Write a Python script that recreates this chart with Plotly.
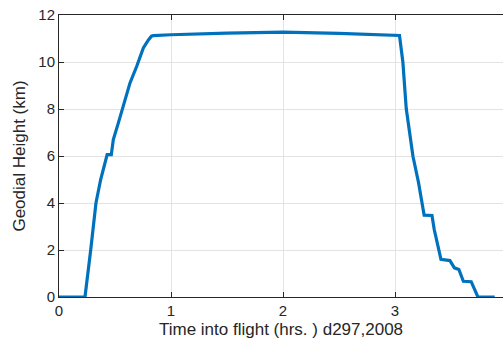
import plotly.graph_objects as go

# Flight profile: time since takeoff (hours) vs. geodial height (km)
time_hrs = [
    0.00, 0.10, 0.232, 0.283, 0.33, 0.372, 0.405, 0.43, 0.467, 0.485, 0.53,
    0.574, 0.634, 0.694, 0.753, 0.80, 0.825, 0.84, 1.00, 1.50, 2.00, 2.50,
    2.90, 3.03, 3.04, 3.07, 3.10, 3.16, 3.21, 3.26, 3.33, 3.35, 3.41, 3.49,
    3.53, 3.57, 3.61, 3.68, 3.74, 3.82, 3.89,
]
height_km = [
    0.00, 0.00, 0.00, 2.00, 4.00, 5.00, 5.57, 6.06, 6.06, 6.70, 7.41,
    8.12, 9.11, 9.82, 10.60, 10.95, 11.10, 11.12, 11.16, 11.23, 11.27, 11.22,
    11.16, 11.14, 11.13, 10.00, 8.02, 5.99, 4.86, 3.48, 3.47, 2.87, 1.60, 1.55,
    1.24, 1.17, 0.67, 0.65, 0.00, 0.00, 0.00,
]

x_ticks = [0, 1, 2, 3, 4]
y_ticks = [0, 2, 4, 6, 8, 10, 12]

axis_color = "#262626"
grid_color = "#e3e3e3"

fig = go.Figure(
    go.Scatter(
        x=time_hrs,
        y=height_km,
        mode="lines",
        line=dict(color="#0072BD", width=3.2),
        showlegend=False,
    )
)

fig.update_layout(
    width=503,
    height=345,
    margin=dict(l=59, r=0, t=15, b=48),
    paper_bgcolor="white",
    plot_bgcolor="white",
    font=dict(family="Liberation Sans, Arial, sans-serif", size=15, color=axis_color),
)

fig.update_xaxes(
    range=[0, 3.964],
    tickvals=x_ticks,
    ticks="inside",
    ticklen=5,
    tickcolor=axis_color,
    showline=True,
    linecolor=axis_color,
    linewidth=1,
    mirror="ticks",
    showgrid=True,
    gridcolor=grid_color,
    gridwidth=1,
    zeroline=False,
    tickfont=dict(size=15),
    title=dict(text="Time into flight (hrs. ) d297,2008", font=dict(size=17), standoff=5),
)

fig.update_yaxes(
    range=[0, 12],
    tickvals=y_ticks,
    ticks="inside",
    ticklen=5,
    tickcolor=axis_color,
    showline=True,
    linecolor=axis_color,
    linewidth=1,
    showgrid=True,
    gridcolor=grid_color,
    gridwidth=1,
    zeroline=False,
    tickfont=dict(size=15),
    title=dict(text="Geodial Height (km)", font=dict(size=17), standoff=8),
)

fig.write_html("out.html")
